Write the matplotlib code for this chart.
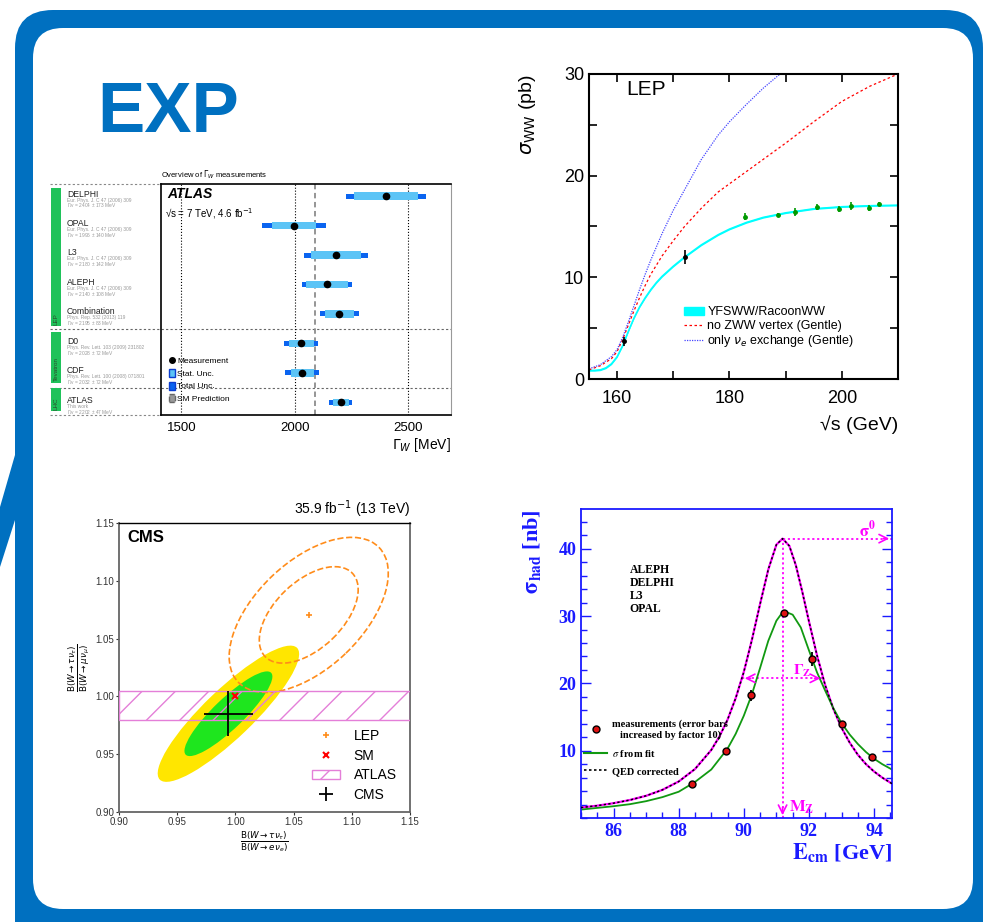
import numpy as np
import matplotlib
matplotlib.use('Agg')
import matplotlib.pyplot as plt
from matplotlib import patches, transforms
from matplotlib.lines import Line2D
from matplotlib.ticker import MultipleLocator

plt.rcParams['font.family'] = ['Liberation Sans', 'DejaVu Sans']
plt.rcParams['mathtext.fontset'] = 'dejavusans'

W, H = 984, 922
BLUE = '#0070c0'

# ---- W width overview (ATLAS) ----
gw_names = ['DELPHI', 'OPAL', 'L3', 'ALEPH', 'Combination', 'D0', 'CDF', 'ATLAS']
gw_refs = ['Eur. Phys. J. C 47 (2006) 309'] * 4 + [
    'Phys. Rep. 532 (2013) 119', 'Phys. Rev. Lett. 103 (2009) 231802',
    'Phys. Rev. Lett. 100 (2008) 071801', 'This work']
gw_quoted = ['2404 ± 173', '1996 ± 140', '2180 ± 142', '2140 ± 108',
             '2195 ± 83', '2028 ± 72', '2032 ± 72', '2202 ± 47']
gw_val = [2404, 1996, 2182, 2143, 2197, 2029, 2034, 2203]
gw_stat = [140, 97, 112, 93, 65, 56, 50, 35]
gw_tot = [176, 142, 143, 111, 86, 75, 75, 50]
gw_groups = ['LEP', 'Tevatron', 'LHC']
gw_group_span = [(-0.29, 4.41), (4.6, 6.33), (6.52, 7.31)]
gw_sm = 2091

# ---- LEP WW cross section ----
ww_E = [155, 156, 157, 158, 159, 160, 161, 162, 163, 164, 165, 166, 167, 168,
        170, 172, 175, 178, 180, 183, 186, 190, 195, 200, 205, 210]
ww_sm = [0.85, 0.85, 0.9, 1.1, 1.5, 2.2, 3.3, 4.7, 6.0, 7.1, 8.0, 8.8, 9.5, 10.1,
         11.1, 12.0, 13.2, 14.2, 14.75, 15.4, 15.9, 16.35, 16.75, 16.95, 17.05, 17.1]
ww_nozww_E = [155, 157, 159, 160, 161, 162, 163, 164, 165, 166, 168, 170, 172,
              175, 178, 180, 185, 190, 195, 200, 205, 210]
ww_nozww = [0.9, 1.3, 2.0, 2.7, 3.9, 5.3, 6.7, 8.0, 9.2, 10.3, 12.1, 13.6, 15.0,
            16.8, 18.4, 19.2, 21.2, 23.2, 25.3, 27.3, 28.8, 30.0]
ww_nue_E = [155, 157, 159, 160, 161, 162, 163, 164, 165, 166, 168, 170, 172,
            175, 178, 180, 183, 186, 189]
ww_nue = [1.0, 1.4, 2.2, 2.9, 4.1, 5.6, 7.2, 8.8, 10.3, 11.7, 14.3, 16.6, 18.6,
          21.6, 24.0, 25.3, 27.0, 28.6, 30.0]
ww_early_E = [161.3, 172.1]
ww_early = [3.7, 12.0]
ww_early_err = [0.45, 0.7]
ww_data_E = [182.7, 188.6, 191.6, 195.5, 199.5, 201.6, 204.9, 206.6]
ww_data = [15.95, 16.1, 16.4, 16.95, 16.75, 17.0, 16.8, 17.2]
ww_data_err = [0.35, 0.2, 0.4, 0.3, 0.3, 0.4, 0.3, 0.2]

# ---- lepton universality (CMS) ----
cms_center = (0.994, 0.985)
cms_err = (0.021, 0.0195)
cms_ell_semi = [(0.082, 0.021), (0.051, 0.013)]   # 2 sigma, 1 sigma
cms_ell_angle = 44
lep_center = (1.063, 1.0705)
lep_ell_semi = [(0.084, 0.046), (0.052, 0.029)]
lep_ell_angle = 44
sm_point = (1.0, 1.0)
atlas_band = (0.9795, 1.0046)

# ---- Z lineshape ----
z_qed_E = [85, 85.5, 86, 86.5, 87, 87.5, 88, 88.5, 89, 89.25, 89.5, 89.75, 90,
           90.25, 90.5, 90.75, 91, 91.19, 91.4, 91.6, 91.8, 92, 92.25, 92.5,
           92.75, 93, 93.25, 93.5, 93.75, 94, 94.25, 94.55]
z_qed = [1.55, 1.83, 2.2, 2.67, 3.3, 4.18, 5.42, 7.27, 10.1, 12.1, 14.6, 17.8,
         21.7, 26.5, 31.8, 36.9, 40.6, 41.5, 40.4, 37.5, 33.5, 29.2, 24.1, 19.7,
         16.2, 13.4, 11.2, 9.4, 8.0, 6.9, 6.0, 5.1]
z_fit_E = [85, 85.5, 86, 86.5, 87, 87.5, 88, 88.5, 89, 89.5, 89.75, 90, 90.25,
           90.5, 90.75, 91, 91.15, 91.3, 91.5, 91.75, 92, 92.25, 92.5, 92.75, 93,
           93.25, 93.5, 93.75, 94, 94.25, 94.55]
z_fit = [1.25, 1.5, 1.75, 2.05, 2.5, 3.1, 3.9, 5.35, 7.2, 10.3, 12.5, 15.2, 18.4,
         22.3, 26.3, 29.3, 30.3, 30.6, 30.2, 28.3, 24.9, 21.6, 18.9, 16.3, 14.1,
         12.4, 11.0, 9.8, 8.8, 8.0, 7.2]
z_meas_E = [88.40, 89.45, 90.23, 91.24, 92.08, 93.00, 93.94]
z_meas = [5.0, 9.9, 18.2, 30.45, 23.6, 14.0, 9.06]
z_meas_err = [0.3, 0.35, 0.8, 0.4, 1.0, 0.45, 0.4]
z_mass, z_sigma0, z_width = 91.19, 41.5, 2.495


def px_axes(left, top, right, bottom):
    return fig.add_axes([left / W, 1 - bottom / H, (right - left) / W, (bottom - top) / H])


fig = plt.figure(figsize=(W / 100, H / 100), dpi=100)

# slide frame
bg = fig.add_axes([0, 0, 1, 1])
bg.set_xlim(0, W)
bg.set_ylim(H, 0)
bg.axis('off')
bg.add_patch(patches.FancyBboxPatch((53, 48), 892, 877, boxstyle='round,pad=38',
                                    fc=BLUE, ec='none'))
bg.add_patch(patches.FancyBboxPatch((63, 58), 880, 821, boxstyle='round,pad=30',
                                    fc='white', ec='none'))
bg.add_patch(patches.Polygon([(15, 455), (15, 520), (0, 567), (0, 507)], fc=BLUE, ec='none'))
bg.text(97, 132, 'EXP', color=BLUE, fontsize=51, fontweight='bold', va='baseline')

# ---------------- panel 1: Gamma_W ----------------
ax1 = px_axes(161, 184, 451, 415)
rows = np.arange(len(gw_names))
val = np.array(gw_val)
stat = np.array(gw_stat)
tot = np.array(gw_tot)
ax1.barh(rows, 2 * tot, left=val - tot, height=0.17, color='#0a64f0', zorder=3)
ax1.barh(rows, 2 * stat, left=val - stat, height=0.25, color='#5cc4f6', zorder=4)
ax1.plot(val, rows, 'o', color='k', ms=4.5, zorder=5)
ax1.axvline(gw_sm, color='#8c8c8c', ls=(0, (3, 2)), lw=1.3, zorder=2)
ax1.set_xlim(1410, 2690)
ax1.set_ylim(7.43, -0.41)
ax1.set_xticks([1500, 2000, 2500])
ax1.set_yticks([])
ax1.grid(axis='x', color='k', ls=':', lw=0.8)
ax1.tick_params(axis='x', length=0, labelsize=9.5, pad=5)
for s in ['top', 'left', 'bottom']:
    ax1.spines[s].set_linewidth(1.2)
ax1.spines['right'].set_color('#999999')
ax1.text(1.0, -0.09, r'$\Gamma_W$ [MeV]', transform=ax1.transAxes, ha='right',
         va='top', fontsize=10)
ax1.text(0.0, 1.012, r'Overview of $\Gamma_W$ measurements', transform=ax1.transAxes,
         fontsize=5.5, va='bottom')
ax1.text(0.02, 0.955, 'ATLAS', transform=ax1.transAxes, fontsize=10, fontweight='bold',
         style='italic', va='center')
ax1.text(0.015, 0.87, r'√s = 7 TeV, 4.6 fb$^{-1}$', transform=ax1.transAxes,
         fontsize=7, va='center')

blend = transforms.blended_transform_factory(ax1.transAxes, ax1.transData)
for y in [4.5, 6.5]:
    ax1.plot([-0.383, 1], [y, y], transform=blend, clip_on=False, color='#666666',
             ls=(0, (2, 2)), lw=0.8, zorder=1)
for y in [-0.41, 7.43]:
    ax1.plot([-0.383, 0], [y, y], transform=blend, clip_on=False, color='#888888',
             ls=(0, (2, 2)), lw=0.8)
for g, (y0, y1) in zip(gw_groups, gw_group_span):
    ax1.add_patch(patches.Rectangle((-0.380, y0), 0.035, y1 - y0, transform=blend,
                                    clip_on=False, fc='#1fc25a', ec='none'))
    ax1.text(-0.3625, y1 - 0.05, g, transform=blend, rotation=90, ha='center',
             va='bottom', fontsize=4.5, color='#2b4a2b', clip_on=False)
for i, (n, r, q) in enumerate(zip(gw_names, gw_refs, gw_quoted)):
    ax1.text(-0.324, i - 0.07, n, transform=blend, fontsize=6.2, va='center', color='#222222')
    ax1.text(-0.324, i + 0.135, r, transform=blend, fontsize=3.5, va='center', color='#999999')
    ax1.text(-0.324, i + 0.33, r'$\Gamma_W$ = ' + q + ' MeV', transform=blend,
             fontsize=3.5, va='center', color='#999999')

h1 = [Line2D([], [], marker='o', color='k', ls='none', ms=4),
      patches.Patch(fc='#5cc4f6', ec='#0a3cd0', lw=1),
      patches.Patch(fc='#0a64f0', ec='#0a3cd0', lw=1),
      patches.Patch(fc='#999999', ec='#666666', ls='--', lw=1)]
ax1.legend(h1, ['Measurement', 'Stat. Unc.', 'Total Unc.', 'SM Prediction'],
           loc='lower left', bbox_to_anchor=(0.01, 0.03), frameon=False, fontsize=6,
           handlelength=0.7, handleheight=1.1, handletextpad=0.3, labelspacing=0.45,
           borderaxespad=0.2)

# ---------------- panel 2: sigma_WW ----------------
ax2 = px_axes(589, 74, 898, 379)
sm = np.array(ww_sm)
ax2.fill_between(ww_E, sm - 0.08, sm + 0.08, color='cyan', lw=0)
ax2.plot(ww_E, sm, color='cyan', lw=1.1)
ax2.plot(ww_nozww_E, ww_nozww, color='red', ls=(0, (2, 2)), lw=0.9)
ax2.plot(ww_nue_E, ww_nue, color='#4444ff', ls=(0, (1, 1)), lw=0.9)
ax2.errorbar(ww_early_E, ww_early, yerr=ww_early_err, fmt='o', color='k', ms=2.5,
             elinewidth=1.2, capsize=0)
ax2.errorbar(ww_data_E, ww_data, yerr=ww_data_err, fmt='o', color='#009900', ms=2.5,
             elinewidth=1.2, capsize=0)
ax2.set_xlim(155, 210)
ax2.set_ylim(0, 30)
ax2.xaxis.set_major_locator(MultipleLocator(20))
ax2.xaxis.set_minor_locator(MultipleLocator(10))
ax2.yaxis.set_major_locator(MultipleLocator(10))
ax2.yaxis.set_minor_locator(MultipleLocator(5))
ax2.tick_params(which='both', direction='in', top=True, right=True, length=6,
                width=1.2, labelsize=13)
ax2.tick_params(axis='x', pad=8)
for s in ax2.spines.values():
    s.set_linewidth(1.5)
ax2.text(0.12, 0.95, 'LEP', transform=ax2.transAxes, fontsize=15, va='center')
ax2.text(-0.2, 1.0, r'$\sigma_{\rm WW}$ (pb)', transform=ax2.transAxes, rotation=90,
         ha='center', va='top', fontsize=14)
ax2.text(1.0, -0.12, '√s (GeV)', transform=ax2.transAxes, ha='right', va='top',
         fontsize=14)
h2 = [patches.Patch(color='cyan'),
      Line2D([], [], color='red', ls=(0, (2, 2)), lw=0.9),
      Line2D([], [], color='#4444ff', ls=(0, (1, 1)), lw=0.9)]
ax2.legend(h2, ['YFSWW/RacoonWW', 'no ZWW vertex (Gentle)',
                r'only $\nu_e$ exchange (Gentle)'],
           loc='upper left', bbox_to_anchor=(0.27, 0.275), frameon=False, fontsize=9,
           handlelength=1.6, handletextpad=0.3, labelspacing=0.12)

# ---------------- panel 3: CMS lepton universality ----------------
ax3 = px_axes(119, 523, 410, 812)
for (a, b), col in zip(cms_ell_semi, ['#ffe600', '#1ee61e']):
    ax3.add_patch(patches.Ellipse(cms_center, 2 * a, 2 * b, angle=cms_ell_angle,
                                  fc=col, ec='none', zorder=1))
for a, b in lep_ell_semi:
    ax3.add_patch(patches.Ellipse(lep_center, 2 * a, 2 * b, angle=lep_ell_angle,
                                  fill=False, ec='#ff8c1a', ls='--', lw=1.2, zorder=2))
ax3.axhspan(atlas_band[0], atlas_band[1], fc='none', ec='#e47fd8', hatch='/', lw=1,
            zorder=3)
lep_h, = ax3.plot([lep_center[0]], [lep_center[1]], '+', color='#ff8c1a', ms=4,
                  mew=1.2, zorder=4)
sm_h, = ax3.plot([sm_point[0]], [sm_point[1]], 'x', color='red', ms=4, mew=1.5, zorder=4)
cms_h = ax3.errorbar([cms_center[0]], [cms_center[1]], xerr=[cms_err[0]],
                     yerr=[cms_err[1]], fmt='none', ecolor='k', elinewidth=1.3, zorder=5)
ax3.set_xlim(0.90, 1.15)
ax3.set_ylim(0.90, 1.15)
ax3.set_xticks([0.90, 0.95, 1.00, 1.05, 1.10, 1.15])
ax3.set_yticks([0.90, 0.95, 1.00, 1.05, 1.10, 1.15])
ax3.tick_params(direction='out', length=2, labelsize=7, pad=1.5, colors='#333333')
for s in ['left', 'bottom', 'right']:
    ax3.spines[s].set_color('#666666')
    ax3.spines[s].set_linewidth(1.3)
ax3.spines['top'].set_linewidth(1.0)
ax3.text(0.03, 0.95, 'CMS', transform=ax3.transAxes, fontsize=12, fontweight='bold',
         va='center')
ax3.text(1.0, 1.01, r'35.9 fb$^{-1}$ (13 TeV)', transform=ax3.transAxes, ha='right',
         va='bottom', fontsize=10)
ax3.set_ylabel(r'$\frac{\mathrm{B}(W\rightarrow\tau\nu_\tau)}{\mathrm{B}(W\rightarrow\mu\nu_\mu)}$',
               fontsize=9, labelpad=2)
ax3.set_xlabel(r'$\frac{\mathrm{B}(W\rightarrow\tau\nu_\tau)}{\mathrm{B}(W\rightarrow e\nu_e)}$',
               fontsize=9, labelpad=2)
h3 = [lep_h, sm_h, patches.Patch(fc='none', ec='#e47fd8', hatch='/'), cms_h]
ax3.legend(h3, ['LEP', 'SM', 'ATLAS', 'CMS'], loc='upper left',
           bbox_to_anchor=(0.62, 0.33), frameon=False, fontsize=10, handlelength=2.0,
           handletextpad=1.0, labelspacing=0.4)

# ---------------- panel 4: Z lineshape ----------------
ZB = '#1a1aff'
serif = ['Liberation Serif', 'DejaVu Serif']
ax4 = px_axes(581, 509, 892, 818)
ax4.plot(z_qed_E, z_qed, color='magenta', lw=1.6, zorder=2)
ax4.plot(z_qed_E, z_qed, color='k', ls=(0, (1.5, 1.5)), lw=1.1, zorder=3)
ax4.plot(z_fit_E, z_fit, color='#119911', lw=1.3, zorder=2)
ax4.errorbar(z_meas_E, z_meas, yerr=z_meas_err, fmt='o', mfc='#dd1111', mec='k',
             ms=5, ecolor='k', elinewidth=1.3, capsize=0, zorder=4)
ax4.set_xlim(85, 94.55)
ax4.set_ylim(0, 45.9)
mag = dict(color='magenta', ls=(0, (1.2, 1.5)), lw=1.3, zorder=1)
ax4.plot([z_mass, z_mass], [0, z_sigma0], **mag)
ax4.plot([z_mass, 94.55], [z_sigma0, z_sigma0], **mag)
ax4.plot([z_mass - z_width / 2, z_mass + z_width / 2], [z_sigma0 / 2, z_sigma0 / 2], **mag)
ah = dict(arrowstyle='->,head_length=0.6,head_width=0.3', color='magenta', lw=1.2)
ax4.annotate('', xy=(z_mass, 0), xytext=(z_mass, 2), arrowprops=ah)
ax4.annotate('', xy=(94.55, z_sigma0), xytext=(94.2, z_sigma0), arrowprops=ah,
             annotation_clip=False)
ax4.annotate('', xy=(z_mass - z_width / 2, z_sigma0 / 2),
             xytext=(z_mass - z_width / 2 + 0.35, z_sigma0 / 2), arrowprops=ah)
ax4.annotate('', xy=(z_mass + z_width / 2, z_sigma0 / 2),
             xytext=(z_mass + z_width / 2 - 0.35, z_sigma0 / 2), arrowprops=ah)
ax4.text(93.55, 42.9, r'$\mathbf{\sigma^0}$', color='magenta', fontsize=12,
         math_fontfamily='stix', va='center')
ax4.text(91.5, 21.9, r'$\mathbf{\Gamma_Z}$', color='magenta', fontsize=11,
         math_fontfamily='stix', va='center')
ax4.text(91.38, 1.6, r'$\mathbf{M_Z}$', color='magenta', fontsize=12,
         math_fontfamily='stix', va='center')
ax4.text(86.5, 37.8, 'ALEPH\nDELPHI\nL3\nOPAL', family=serif, fontweight='bold',
         fontsize=8.5, va='top', linespacing=1.13)
ax4.xaxis.set_major_locator(MultipleLocator(2))
ax4.xaxis.set_minor_locator(MultipleLocator(0.5))
ax4.yaxis.set_major_locator(MultipleLocator(10))
ax4.yaxis.set_minor_locator(MultipleLocator(2))
ax4.set_yticks([10, 20, 30, 40])
ax4.tick_params(which='both', direction='in', right=True, color=ZB, labelcolor=ZB,
                labelsize=13, width=1.0)
ax4.tick_params(which='major', length=7)
ax4.tick_params(which='minor', length=4)
for lab in ax4.get_xticklabels() + ax4.get_yticklabels():
    lab.set_family(serif)
    lab.set_fontweight('bold')
for s in ax4.spines.values():
    s.set_color(ZB)
    s.set_linewidth(1.3)
ax4.text(-0.155, 1.0, r'$\mathbf{\sigma_{had}}$ [nb]', transform=ax4.transAxes,
         rotation=90, ha='center', va='top', fontsize=16, color=ZB, family=serif,
         fontweight='bold', math_fontfamily='stix')
ax4.text(1.0, -0.115, r'$\mathbf{E_{cm}}$ [GeV]', transform=ax4.transAxes, ha='right',
         va='center', fontsize=16, color=ZB, family=serif, fontweight='bold',
         math_fontfamily='stix')
h4 = [Line2D([], [], marker='o', mfc='#dd1111', mec='k', ms=5, ls='none'),
      Line2D([], [], color='#119911', lw=1.5),
      Line2D([], [], color='k', ls=(0, (1.5, 1.5)), lw=1.2)]
leg4 = ax4.legend(h4, ['measurements (error bars\nincreased by factor 10)',
                       r'$\sigma$ from fit', 'QED corrected'],
                  loc='upper left', bbox_to_anchor=(-0.02, 0.35), frameon=False,
                  handlelength=2.2, handletextpad=0.5, labelspacing=0.75,
                  prop=dict(family=serif, weight='bold', size=7.5))
leg4.get_texts()[0].set_multialignment('center')
leg4.get_texts()[1].set_math_fontfamily('stix')

fig.savefig('out.png', dpi=100)
